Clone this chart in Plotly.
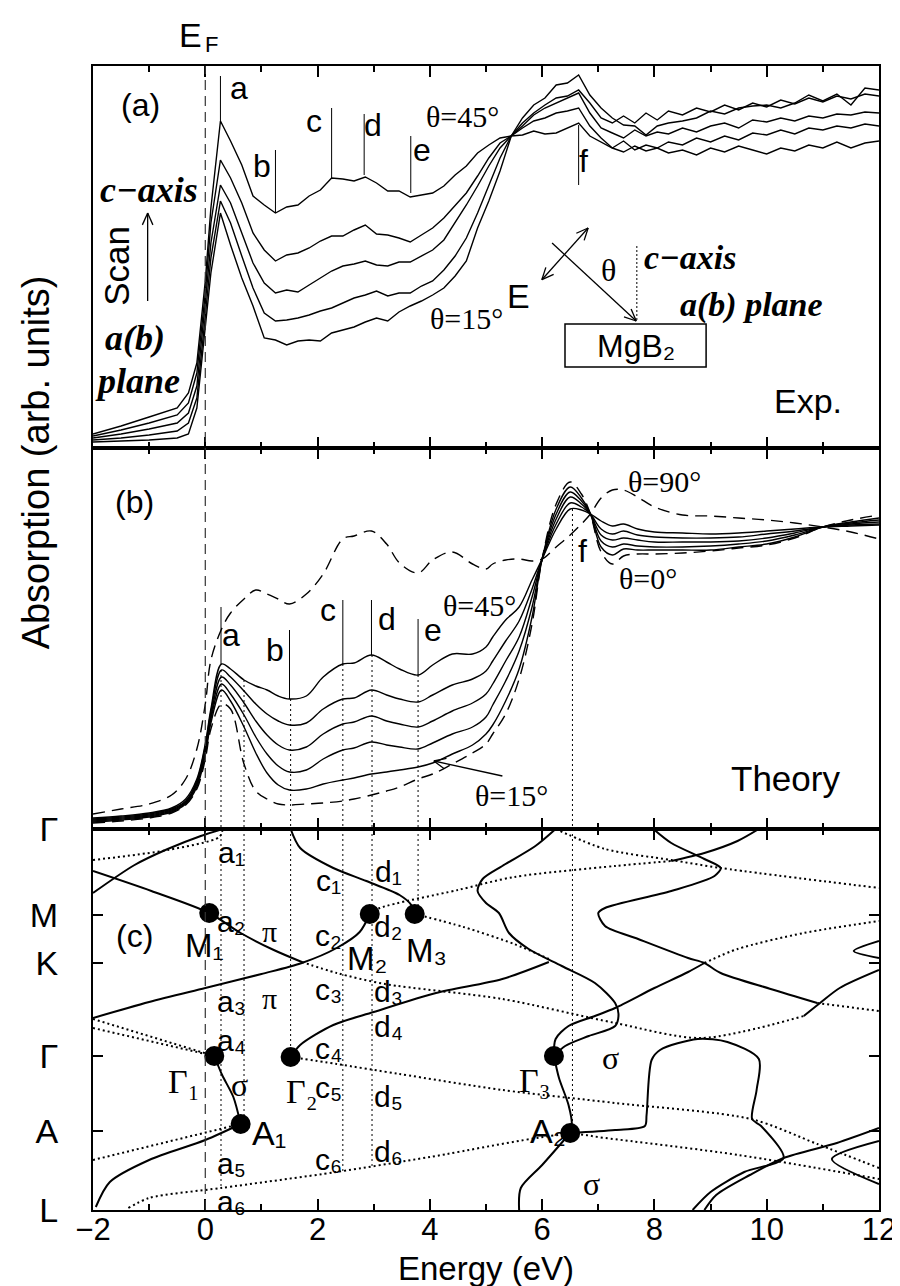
import math
import plotly.graph_objects as go

SANS = "Liberation Sans, Arial, DejaVu Sans, sans-serif"
SERIF = "Liberation Serif, Times New Roman, DejaVu Serif, serif"

# ---------------- panel (a): experiment ----------------
E_EXP = [-2.0, -1.5, -1.0, -0.5, -0.3, -0.15, 0.0, 0.1, 0.27, 0.45, 0.65, 0.85, 1.05, 1.25, 1.45, 1.65,
         1.85, 2.05, 2.25, 2.45, 2.65, 2.85, 3.05, 3.25, 3.45, 3.65, 3.85, 4.05, 4.25, 4.45, 4.65, 4.85,
         5.05, 5.25, 5.45, 5.65, 5.85, 6.05, 6.25, 6.45, 6.65, 6.85, 7.05, 7.25, 7.45, 7.65, 7.85, 8.05,
         8.25, 8.5, 8.75, 9.0, 9.25, 9.5, 9.75, 10.0, 10.25, 10.5, 10.75, 11.0, 11.25, 11.5, 11.75, 12.0]
EXP_45 = [14, 22, 31, 40, 55, 85, 167, 240, 327, 307, 283, 252, 243, 235, 241, 243, 252, 258, 270, 269,
          267, 271, 265, 257, 257, 251, 253, 255, 262, 273, 282, 295, 303, 310, 312, 313, 317, 314, 315, 320,
          325, 312, 306, 300, 296, 302, 297, 300, 295, 298, 293, 300, 296, 302, 298, 294, 300, 297, 303, 300,
          306, 300, 305, 307]
EXP_2 = [12, 18, 25, 33, 45, 75, 155, 225, 288, 270, 245, 215, 198, 187, 193, 195, 200, 207, 212, 212,
         218, 223, 214, 213, 210, 206, 213, 220, 230, 243, 255, 272, 290, 305, 312, 320, 327, 330, 335, 337,
         340, 322, 310, 300, 307, 298, 303, 300, 306, 303, 310, 306, 312, 308, 315, 313, 318, 314, 320, 318,
         322, 320, 324, 322]
EXP_3 = [10, 14, 19, 25, 35, 62, 145, 205, 263, 245, 215, 185, 165, 155, 158, 156, 163, 170, 177, 182,
         184, 187, 183, 182, 186, 186, 192, 198, 208, 225, 243, 262, 282, 300, 312, 322, 333, 340, 345, 350,
         355, 335, 320, 315, 310, 318, 312, 316, 314, 320, 316, 322, 325, 320, 328, 326, 330, 327, 332, 330,
         334, 333, 336, 335]
EXP_4 = [8, 10, 13, 17, 25, 50, 132, 190, 247, 225, 192, 160, 135, 127, 128, 130, 133, 137, 140, 145,
         150, 153, 157, 152, 155, 155, 162, 167, 178, 192, 210, 235, 262, 290, 312, 325, 335, 343, 350, 352,
         358, 345, 330, 325, 332, 325, 335, 328, 337, 333, 340, 336, 343, 338, 345, 341, 348, 344, 350, 346,
         352, 349, 354, 352]
EXP_15 = [6, 7, 8, 10, 14, 40, 120, 175, 235, 203, 170, 142, 110, 108, 103, 107, 108, 107, 115, 118,
          121, 126, 130, 127, 136, 142, 147, 153, 160, 172, 187, 220, 247, 277, 312, 330, 343, 350, 363, 365,
          373, 353, 340, 330, 323, 322, 313, 322, 325, 327, 330, 337, 334, 340, 342, 343, 340, 345, 353, 347,
          354, 343, 360, 358]
EXP_CURVES = [EXP_45, EXP_2, EXP_3, EXP_4, EXP_15]

MARK_E_A = [0.27, 1.25, 2.25, 2.83, 3.66, 6.65]
MARK_TOP_A = [372, 298, 340, 334, 312, 323]
MARK_BOT_A = [327, 235, 270, 273, 255, 263]

# ---------------- panel (b): theory ----------------
E_TH = [-2.0, -1.5, -1.0, -0.6, -0.35, -0.15, 0.0, 0.1, 0.29, 0.45, 0.69, 0.9, 1.1, 1.3, 1.5, 1.8, 2.1,
        2.45, 2.65, 2.96, 3.23, 3.46, 3.79, 4.05, 4.4, 4.76, 5.0, 5.12, 5.35, 5.59, 5.82, 6.0, 6.25, 6.5,
        6.7, 6.86, 7.05, 7.25, 7.45, 7.7, 8.0, 8.5, 9.0, 9.5, 10.0, 10.5, 11.0, 11.5, 12.0]
TH_90 = [15, 20, 25, 34, 50, 80, 125, 169, 200, 216, 230, 239, 235, 230, 225, 235, 255, 290, 293, 298,
         285, 266, 256, 269, 277, 265, 260, 265, 269, 270, 268, 270, 282, 294, 305, 315, 331, 339, 339, 332,
         322, 314, 313, 311, 309, 306, 302, 297, 290]
TH_45 = [11, 13, 16, 21, 30, 50, 85, 120, 165, 160, 149, 143, 139, 133, 130, 133, 152, 165, 166, 174,
         167, 160, 154, 164, 175, 175, 182, 192, 209, 222, 249, 270, 300, 320, 319, 315, 308, 303, 305, 300,
         297, 296, 295, 296, 298, 300, 302, 303, 304]
TH_2 = [10, 12, 15, 20, 28, 48, 83, 117, 159, 152, 138, 125, 115, 108, 104, 106, 120, 130, 131, 139,
        134, 130, 127, 134, 144, 150, 158, 168, 188, 208, 240, 270, 305, 326, 322, 315, 300, 295, 298, 294,
        292, 291, 291, 292, 295, 298, 302, 304, 305]
TH_3 = [9, 11, 14, 19, 27, 46, 80, 113, 152, 144, 126, 108, 94, 84, 79, 82, 95, 105, 107, 113,
        108, 105, 102, 108, 118, 126, 135, 145, 168, 192, 232, 270, 310, 332, 325, 315, 294, 289, 291, 289,
        287, 287, 287, 288, 291, 296, 302, 305, 307]
TH_4 = [8, 10, 13, 18, 26, 44, 77, 110, 145, 135, 114, 92, 75, 63, 57, 59, 70, 79, 81, 87,
        84, 82, 80, 86, 95, 102, 112, 124, 148, 178, 222, 270, 315, 337, 328, 315, 288, 282, 285, 283,
        282, 282, 283, 285, 288, 294, 302, 306, 309]
TH_15 = [7, 9, 12, 17, 25, 42, 74, 106, 139, 128, 102, 76, 56, 44, 39, 40, 45, 49, 51, 55,
         57, 59, 62, 66, 75, 84, 95, 104, 128, 160, 212, 270, 320, 342, 331, 315, 282, 274, 280, 279,
         279, 279, 279, 282, 285, 292, 302, 307, 311]
TH_0 = [6, 8, 11, 16, 24, 40, 70, 100, 125, 120, 65, 38, 30, 25, 24, 25, 26, 28, 30, 34,
        38, 42, 50, 55, 65, 76, 85, 95, 115, 150, 205, 270, 325, 347, 335, 315, 277, 265, 273, 275,
        275, 276, 278, 281, 284, 291, 302, 309, 314]
TH_SOLID = [TH_45, TH_2, TH_3, TH_4, TH_15]
TH_DASHED = [TH_90, TH_0]

MARK_E_B = [0.28, 1.5, 2.45, 2.96, 3.79]
MARK_TOP_B = [222, 199, 229, 229, 210]
MARK_BOT_B = [165, 130, 165, 174, 154]

DROP_E = [0.28, 0.69, 1.52, 2.45, 2.97, 3.79, 6.54]
DROP_TOP_B = [159, 149, 130, 165, 174, 154, 320]
DROP_END_C = [22, 88, 153, 37, 42, 296, 77]

# ---------------- panel (c): band structure (energy, k-path position) ----------------
K_TICKS = [0, 79, 154, 247, 295, 381]
K_LABELS = ["L", "A", "Γ", "K", "M", "Γ"]

BAND_S1 = [(-2.0, 317), (-1.26, 345), (-0.67, 361), (-0.08, 374), (0.31, 381)]
BAND_S2 = [(-2.0, 339), (-0.96, 319), (0.07, 297), (0.63, 277), (1.22, 260), (1.72, 248)]
BAND_S3 = [(-2.0, 192), (-1.0, 208), (0.0, 222), (1.0, 236), (1.72, 247), (2.34, 262), (2.75, 278), (2.93, 296)]
BAND_S4 = [(1.52, 381), (1.69, 362), (2.28, 342), (2.87, 329), (3.46, 315), (3.67, 305), (3.73, 296)]
BAND_S5 = [(0.16, 154), (0.3, 135), (0.5, 113), (0.63, 86)]
BAND_S6 = [(0.63, 86), (0.0, 70), (-1.0, 50), (-1.7, 28), (-1.95, 3)]
BAND_S7 = [(1.52, 153), (1.69, 165), (2.28, 185), (3.0, 198), (4.11, 217), (5.29, 231), (6.12, 248)]
BAND_S8 = [(6.24, 381), (5.88, 364), (5.29, 344), (4.94, 331), (4.85, 319), (5.0, 307), (5.23, 297),
           (5.41, 277), (5.76, 261), (6.35, 244), (6.94, 227), (7.3, 207), (7.36, 196), (7.3, 184),
           (6.83, 174), (6.41, 164), (6.21, 154)]
BAND_S9 = [(6.21, 154), (6.24, 171), (6.47, 184), (6.94, 194), (7.3, 202), (8.0, 222), (8.6, 238), (8.89, 247)]
BAND_S10 = [(7.98, 381), (8.3, 367), (8.89, 351), (9.18, 342), (9.07, 334), (8.3, 319), (7.12, 302),
            (7.0, 297), (7.12, 284), (7.71, 271), (8.6, 252), (8.89, 247), (9.18, 237), (10.07, 221), (10.9, 207)]
BAND_S11 = [(9.86, 381), (9.48, 369), (8.89, 357), (8.3, 349)]
BAND_S12 = [(6.21, 154), (6.3, 132), (6.47, 105), (6.53, 85), (6.5, 77)]
BAND_S13 = [(6.5, 77), (6.0, 45), (5.62, 22), (5.59, 0)]
BAND_S14 = [(6.5, 77), (7.3, 80), (7.83, 84), (7.86, 95), (7.95, 150), (8.1, 160), (8.77, 171), (9.3, 168),
            (9.86, 151), (9.82, 120), (9.74, 91), (9.9, 84), (10.3, 52), (9.6, 38), (9.0, 18), (8.68, 0)]
BAND_S15 = [(8.89, 0), (9.1, 15), (9.7, 35), (10.3, 52), (11.25, 67), (12.0, 82)]
BAND_S16 = [(12.0, 69), (11.16, 51), (12.0, 26)]
BAND_S17 = [(12.0, 269), (11.55, 259), (12.0, 252)]
BAND_S18 = [(10.66, 194), (10.95, 207), (11.3, 222), (12.0, 240)]
SOLID_BANDS = [BAND_S1, BAND_S2, BAND_S3, BAND_S4, BAND_S5, BAND_S6, BAND_S7, BAND_S8, BAND_S9,
               BAND_S10, BAND_S11, BAND_S12, BAND_S13, BAND_S14, BAND_S15, BAND_S16, BAND_S17, BAND_S18]

BAND_D1 = [(-2.0, 350), (-0.67, 360), (0.25, 373), (0.31, 381)]
BAND_D2 = [(1.72, 248), (2.34, 237), (3.2, 226), (5.29, 211), (7.3, 187), (8.83, 172), (10.66, 194)]
BAND_D3 = [(-2.0, 191), (0.16, 154)]
BAND_D4 = [(-2.0, 182), (0.16, 154)]
BAND_D5 = [(-2.0, 50), (0.63, 86)]
BAND_D6 = [(-1.37, 2), (-1.0, 12), (0.28, 22), (2.34, 38), (4.0, 53), (6.5, 76), (7.12, 72), (9.5, 55), (12.0, 31)]
BAND_D7 = [(1.52, 153), (2.34, 146), (3.46, 136), (5.29, 120), (7.3, 107), (9.72, 91), (10.9, 66), (12.0, 42)]
BAND_D8 = [(3.73, 296), (4.6, 283), (5.5, 266), (6.12, 251)]
BAND_D9 = [(6.24, 381), (7.12, 361), (8.3, 350), (9.18, 342), (12.0, 322)]
BAND_D10 = [(10.9, 207), (12.0, 199)]
BAND_D11 = [(2.93, 296), (3.11, 302), (4.5, 320), (5.5, 333), (7.3, 344), (8.3, 349)]
BAND_D12 = [(8.89, 247), (9.48, 261), (10.66, 277), (12.0, 289)]
DOTTED_BANDS = [BAND_D1, BAND_D2, BAND_D3, BAND_D4, BAND_D5, BAND_D6, BAND_D7, BAND_D8, BAND_D9,
                BAND_D10, BAND_D11, BAND_D12]

DOT_E = [0.07, 2.93, 3.73, 0.16, 1.52, 0.63, 6.21, 6.5]
DOT_K = [297, 296, 296, 154, 153, 86, 154, 77]

# ---------------- geometry ----------------
W, H = 900, 1286
ML, MR, MT, MB = 85, 24, 58, 84
PW, PH = W - ML - MR, H - MT - MB
BOT = H - MB


def pp(px, py):
    return (px - ML) / PW, (BOT - py) / PH


fig = go.Figure()
BLK = "black"

# panel (a)
for ys in EXP_CURVES:
    fig.add_trace(go.Scatter(x=E_EXP, y=ys, mode="lines", line=dict(color=BLK, width=1.4),
                             xaxis="x", yaxis="y", hoverinfo="skip"))
mx, my = [], []
for e, t, b in zip(MARK_E_A, MARK_TOP_A, MARK_BOT_A):
    mx += [e, e, None]
    my += [t, b, None]
fig.add_trace(go.Scatter(x=mx, y=my, mode="lines", line=dict(color=BLK, width=1), xaxis="x", yaxis="y"))

# panel (b)
for ys in TH_SOLID:
    fig.add_trace(go.Scatter(x=E_TH, y=ys, mode="lines", line=dict(color=BLK, width=1.4, shape="spline"),
                             xaxis="x2", yaxis="y2"))
for ys in TH_DASHED:
    fig.add_trace(go.Scatter(x=E_TH, y=ys, mode="lines",
                             line=dict(color=BLK, width=1.4, shape="spline", dash="12px,7px"),
                             xaxis="x2", yaxis="y2"))
mx, my = [], []
for e, t, b in zip(MARK_E_B, MARK_TOP_B, MARK_BOT_B):
    mx += [e, e, None]
    my += [t, b, None]
fig.add_trace(go.Scatter(x=mx, y=my, mode="lines", line=dict(color=BLK, width=1), xaxis="x2", yaxis="y2"))
dx, dy, cx, cy = [], [], [], []
for e, t, k in zip(DROP_E, DROP_TOP_B, DROP_END_C):
    dx += [e, e, None]
    dy += [t, 0, None]
    cx += [e, e, None]
    cy += [381, k, None]
fig.add_trace(go.Scatter(x=dx, y=dy, mode="lines", line=dict(color=BLK, width=1, dash="2px,3px"),
                         xaxis="x2", yaxis="y2"))
fig.add_trace(go.Scatter(x=cx, y=cy, mode="lines", line=dict(color=BLK, width=1, dash="2px,3px"),
                         xaxis="x3", yaxis="y3"))

# panel (c)
for band in SOLID_BANDS:
    fig.add_trace(go.Scatter(x=[p[0] for p in band], y=[p[1] for p in band], mode="lines",
                             line=dict(color=BLK, width=2, shape="spline", smoothing=0.8),
                             xaxis="x3", yaxis="y3"))
for band in DOTTED_BANDS:
    fig.add_trace(go.Scatter(x=[p[0] for p in band], y=[p[1] for p in band], mode="lines",
                             line=dict(color=BLK, width=2, shape="spline", smoothing=0.8, dash="2px,3px"),
                             xaxis="x3", yaxis="y3"))
fig.add_trace(go.Scatter(x=DOT_E, y=DOT_K, mode="markers", marker=dict(color=BLK, size=20),
                         xaxis="x3", yaxis="y3"))

# ---------------- axes ----------------
da = [762 / PH, 1.0]
db = [381 / PH, 762 / PH]
dc = [0.0, 381 / PH]
xcommon = dict(range=[-2, 12], showline=True, linecolor=BLK, linewidth=2, mirror="ticks", ticks="inside",
               ticklen=11, tickwidth=1.5, tickcolor=BLK, dtick=2, tick0=0, showgrid=False, zeroline=False,
               minor=dict(ticks="inside", ticklen=6, dtick=1, tick0=0, tickcolor=BLK, tickwidth=1.5,
                          showgrid=False))
ycommon = dict(showline=True, linecolor=BLK, linewidth=2, mirror=True, showgrid=False, zeroline=False)

fig.update_layout(
    xaxis=dict(xcommon, anchor="y", showticklabels=False),
    xaxis2=dict(xcommon, anchor="y2", showticklabels=False),
    xaxis3=dict(xcommon, anchor="y3", showticklabels=True, ticklabelstandoff=-9,
                tickfont=dict(family=SANS, size=31, color=BLK)),
    yaxis=dict(ycommon, domain=da, range=[0, 382], showticklabels=False, ticks=""),
    yaxis2=dict(ycommon, domain=db, range=[0, 381], showticklabels=False, ticks=""),
    yaxis3=dict(ycommon, domain=dc, range=[0, 381], tickvals=K_TICKS, ticktext=K_LABELS,
                ticks="inside", ticklen=10, tickwidth=1.5, tickcolor=BLK, mirror="ticks",
                ticklabelstandoff=26, tickfont=dict(family=SANS, size=34, color=BLK)),
    width=W, height=H, margin=dict(l=ML, r=MR, t=MT, b=MB),
    paper_bgcolor="white", plot_bgcolor="white", showlegend=False,
    font=dict(family=SANS, size=30, color=BLK),
)

# ---------------- decorations ----------------
shapes = []


def seg(x0, y0, x1, y1, width=1.3, dash=None):
    a = pp(x0, y0)
    b = pp(x1, y1)
    ln = dict(color=BLK, width=width)
    if dash:
        ln["dash"] = dash
    return dict(type="line", xref="paper", yref="paper", x0=a[0], y0=a[1], x1=b[0], y1=b[1], line=ln)


def arrow(x0, y0, x1, y1, start=False, end=True, hl=13, ang=24):
    out = [seg(x0, y0, x1, y1)]

    def head(xt, yt, xf, yf):
        a = math.atan2(yf - yt, xf - xt)
        for s in (-1, 1):
            b = a + s * math.radians(ang)
            out.append(seg(xt, yt, xt + hl * math.cos(b), yt + hl * math.sin(b)))
    if end:
        head(x1, y1, x0, y0)
    if start:
        head(x0, y0, x1, y1)
    return out


shapes.append(dict(type="line", xref="x3", yref="paper", x0=0, x1=0, y0=0, y1=1,
                   line=dict(color="#333", width=1.2, dash="10px,6px")))
shapes += arrow(140, 293, 140, 205)
shapes += arrow(536.7, 271.7, 583.3, 220, start=True, end=True)
shapes += arrow(547, 235, 631.7, 313)
shapes.append(seg(632.3, 238, 632.3, 313, width=1, dash="2px,2px"))
shapes += arrow(497, 768, 428, 753)
b0 = pp(560, 359)
b1 = pp(702, 316)
shapes.append(dict(type="rect", xref="paper", yref="paper", x0=b0[0], y0=b0[1], x1=b1[0], y1=b1[1],
                   line=dict(color=BLK, width=1.5)))
fig.update_layout(shapes=shapes)

ann = []


def txt(s, px, py, size=32, family=SANS, angle=0):
    x, y = pp(px, py)
    ann.append(dict(text=s, x=x, y=y, xref="paper", yref="paper", showarrow=False, textangle=angle,
                    font=dict(family=family, size=size, color=BLK), xanchor="center", yanchor="middle"))


SUB = "₀₁₂₃₄₅₆₇₈₉"
BI = lambda s: "<b><i>" + s + "</i></b>"
# panel (a)
txt("E", 183, 27, 34)
txt("F", 204, 36, 22)
txt("(a)", 133, 97, 32)
for lab, px, py in [("a", 232, 80), ("b", 255, 158), ("c", 307, 113), ("d", 367, 117), ("e", 416, 142),
                    ("f", 579, 153)]:
    txt(lab, px, py, 32)
txt("θ=45°", 457, 108, 30, SERIF)
txt("θ=15°", 461, 310, 30, SERIF)
txt("E", 513, 288, 34)
txt("θ", 604, 262, 32, SERIF)
txt(BI("c−axis"), 141, 182, 36, SERIF)
txt("Scan", 108, 258, 35, SANS, -90)
txt(BI("a(b)"), 127, 330, 36, SERIF)
txt(BI("plane"), 130, 373, 36, SERIF)
txt(BI("c−axis"), 686, 249, 34, SERIF)
txt(BI("a(b) plane"), 748, 297, 34, SERIF)
txt("MgB" + SUB[2], 631, 338, 32)
txt("Exp.", 805, 393, 34)
# panel (b)
txt("(b)", 127, 494, 32)
for lab, px, py in [("a", 224, 627), ("b", 268, 642), ("c", 321, 602), ("d", 381, 611), ("e", 427, 622),
                    ("f", 578, 543)]:
    txt(lab, px, py, 32)
txt("θ=45°", 474, 598, 30, SERIF)
txt("θ=90°", 660, 473, 30, SERIF)
txt("θ=0°", 644, 570, 30, SERIF)
txt("θ=15°", 506, 787, 30, SERIF)
txt("Theory", 782, 770, 35)
# panel (c)
txt("(c)", 127, 928, 32)
for base, px, positions in [("a", 224, [844, 913, 993, 1032, 1155, 1193]),
                            ("c", 322, [872, 927, 981, 1040, 1079, 1151]),
                            ("d", 382, [863, 918, 983, 1018, 1088, 1143])]:
    for i, py in enumerate(positions):
        txt(base + SUB[i + 1], px, py, 30)
txt("π", 263, 923, 30, SERIF)
txt("π", 263, 990, 30, SERIF)
txt("σ", 232, 1077, 32, SERIF)
txt("σ", 606, 1050, 32, SERIF)
txt("σ", 587, 1176, 32, SERIF)
txt("M" + SUB[1], 197, 937, 33)
txt("M" + SUB[2], 361, 950, 33)
txt("M" + SUB[3], 421, 942, 33)
txt("Γ" + SUB[1], 177, 1073, 34, SERIF)
txt("Γ" + SUB[2], 295, 1083, 34, SERIF)
txt("Γ" + SUB[3], 530, 1072, 34, SERIF)
txt("A" + SUB[1], 262, 1125, 34)
txt("A" + SUB[2], 543, 1123, 34)
# axis titles
txt("Absorption (arb. units)", 28, 454, 38, SANS, -90)
txt("Energy (eV)", 480, 1260, 33)
fig.update_layout(annotations=ann)

fig.write_html("out.html")
